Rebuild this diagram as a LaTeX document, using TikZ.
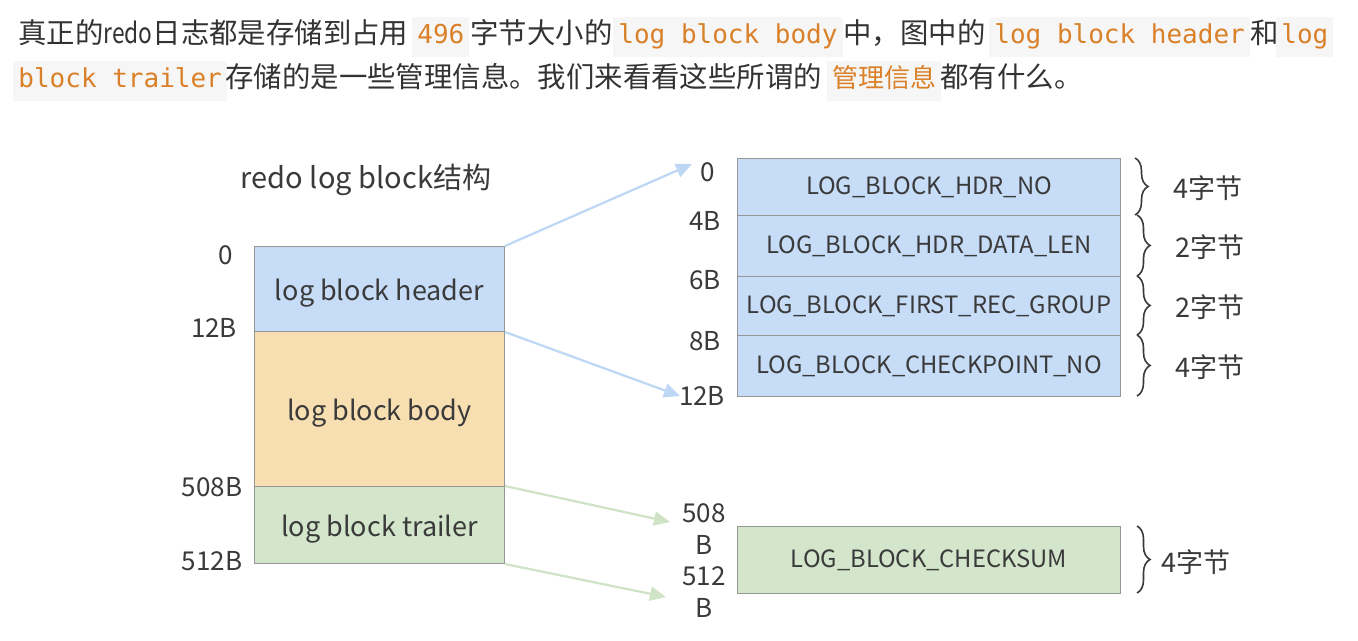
\documentclass[tikz,border=0pt]{standalone}
\usepackage{fontspec}
\setmainfont{Noto Sans CJK SC}
\newfontfamily\cjk{Noto Sans CJK SC}
\newfontfamily\codefont{DejaVu Sans Mono}
\usetikzlibrary{decorations.pathreplacing,arrows.meta}
\definecolor{txt}{RGB}{51,51,51}
\definecolor{dtxt}{RGB}{58,58,58}
\definecolor{codeor}{RGB}{218,128,40}
\definecolor{codebg}{RGB}{246,246,246}
\definecolor{hdrblue}{RGB}{198,220,247}
\definecolor{bodyor}{RGB}{247,223,177}
\definecolor{trlgreen}{RGB}{211,230,204}
\definecolor{bord}{RGB}{150,150,150}
\definecolor{arblue}{RGB}{189,215,245}
\definecolor{argreen}{RGB}{207,227,198}
\tikzset{
  para/.style={anchor=base west, inner sep=0pt, text=txt, font=\cjk\fontsize{14.2pt}{16pt}\selectfont},
  code/.style={anchor=base west, inner xsep=2.5pt, inner ysep=3.5pt, text height=10pt, text depth=3pt,
     fill=codebg, text=codeor, font=\codefont\fontsize{13pt}{15pt}\selectfont},
  codecjk/.style={code, font=\cjk\fontsize{13pt}{15pt}\selectfont},
  box/.style={draw=bord, line width=0.5pt, anchor=north west, inner sep=0pt, text=dtxt},
  lbox/.style={box, minimum width=125pt, text height=14pt, text depth=3pt,
     font=\fontsize{13.5pt}{15pt}\selectfont},
  rbox/.style={box, minimum width=191.5pt, font=\fontsize{11.9pt}{14pt}\selectfont},
  lab/.style={inner sep=0pt, text=dtxt, font=\fontsize{13pt}{16pt}\selectfont, align=center},
  blab/.style={inner sep=0pt, text=dtxt, font=\fontsize{13.5pt}{15pt}\selectfont},
  br/.style={decorate, decoration={brace, amplitude=6.5pt}, draw=dtxt, line width=0.8pt},
  arr/.style={line width=1.1pt, -{Triangle[length=8pt,width=7pt]}},
}
\begin{document}
\begin{tikzpicture}[x=0.5pt,y=-0.5pt]
\useasboundingbox[fill=white] (0,0) rectangle (1358,641);
% paragraph line 1
\node[para] (p1) at (18,44) {真正的\scalebox{0.8}[1]{redo}日志都是存储到占用};
\node[code] (c1) at (412,44) {496};
\node[para] (p2) at (470,44) {字节大小的};
\node[code] (c2) at (613,44) {log block body};
\node[para] (p3) at (843,44) {中，图中的};
\node[code] (c3) at (989,44) {log block header};
\node[para] (p4) at (1250,44) {和};
\node[code] (c4) at (1276,44) {log};
% paragraph line 2
\node[code] (c5) at (13,88) {block trailer};
\node[para] (p5) at (225,88) {存储的是一些管理信息。我们来看看这些所谓的};
\node[codecjk] (c6) at (827,88) {管理信息};
\node[para] (p6) at (940,88) {都有什么。};
% title
\node[inner sep=0pt, text=dtxt, font=\fontsize{14.5pt}{16pt}\selectfont] (title) at (366,180) {redo log block结构};
% left stack
\node[lbox, fill=hdrblue, minimum height=42.5pt] (hdr) at (254,246) {log block header};
\node[lbox, fill=bodyor, minimum height=77.5pt] (body) at (254,331) {log block body};
\node[lbox, fill=trlgreen, minimum height=38.5pt] (trl) at (254,486) {log block trailer};
\node[lab] (l0) at (226,255) {0};
\node[lab] (l12) at (214,328) {12B};
\node[lab] (l508) at (212,487) {508B};
\node[lab] (l512) at (212,561) {512B};
% right stack
\node[rbox, fill=hdrblue, minimum height=28.5pt] (r1) at (737,158) {LOG\_BLOCK\_HDR\_NO};
\node[rbox, fill=hdrblue, minimum height=30.5pt] (r2) at (737,215) {LOG\_BLOCK\_HDR\_DATA\_LEN};
\node[rbox, fill=hdrblue, minimum height=29.5pt] (r3) at (737,276) {LOG\_BLOCK\_FIRST\_REC\_GROUP};
\node[rbox, fill=hdrblue, minimum height=30.5pt] (r4) at (737,335) {LOG\_BLOCK\_CHECKPOINT\_NO};
\node[rbox, fill=trlgreen, minimum height=33.5pt] (ck) at (737,526) {LOG\_BLOCK\_CHECKSUM};
\node[lab] (q0) at (708,172) {0};
\node[lab] (q4) at (705,221) {4B};
\node[lab] (q6) at (705,280) {6B};
\node[lab] (q8) at (705,341) {8B};
\node[lab] (q12) at (702,396) {12B};
\node[lab] (q508) at (704,529) {508\\B};
\node[lab] (q512) at (704,592) {512\\B};
% braces
\draw[br] (1135,158) coordinate (b1a) -- (1135,215) coordinate (b1b);
\draw[br] (1137,215) coordinate (b2a) -- (1137,276) coordinate (b2b);
\draw[br] (1137,276) coordinate (b3a) -- (1137,335) coordinate (b3b);
\draw[br] (1137,335) coordinate (b4a) -- (1137,396) coordinate (b4b);
\draw[br] (1137,526) coordinate (b5a) -- (1137,593) coordinate (b5b);
\node[blab] (s1) at (1208,188) {4字节};
\node[blab] (s2) at (1210,247) {2字节};
\node[blab] (s3) at (1210,307) {2字节};
\node[blab] (s4) at (1210,367) {4字节};
\node[blab] (s5) at (1196,562) {4字节};
% arrows
\coordinate (e1) at (692,164);
\coordinate (e2) at (680,396);
\coordinate (e3) at (670,522);
\coordinate (e4) at (666,597);
\draw[arr, draw=arblue, fill=arblue] (hdr.north east) -- (e1);
\draw[arr, draw=arblue, fill=arblue] (hdr.south east) -- (e2);
\draw[arr, draw=argreen, fill=argreen] (trl.north east) -- (e3);
\draw[arr, draw=argreen, fill=argreen] (trl.south east) -- (e4);
\end{tikzpicture}
\end{document}
